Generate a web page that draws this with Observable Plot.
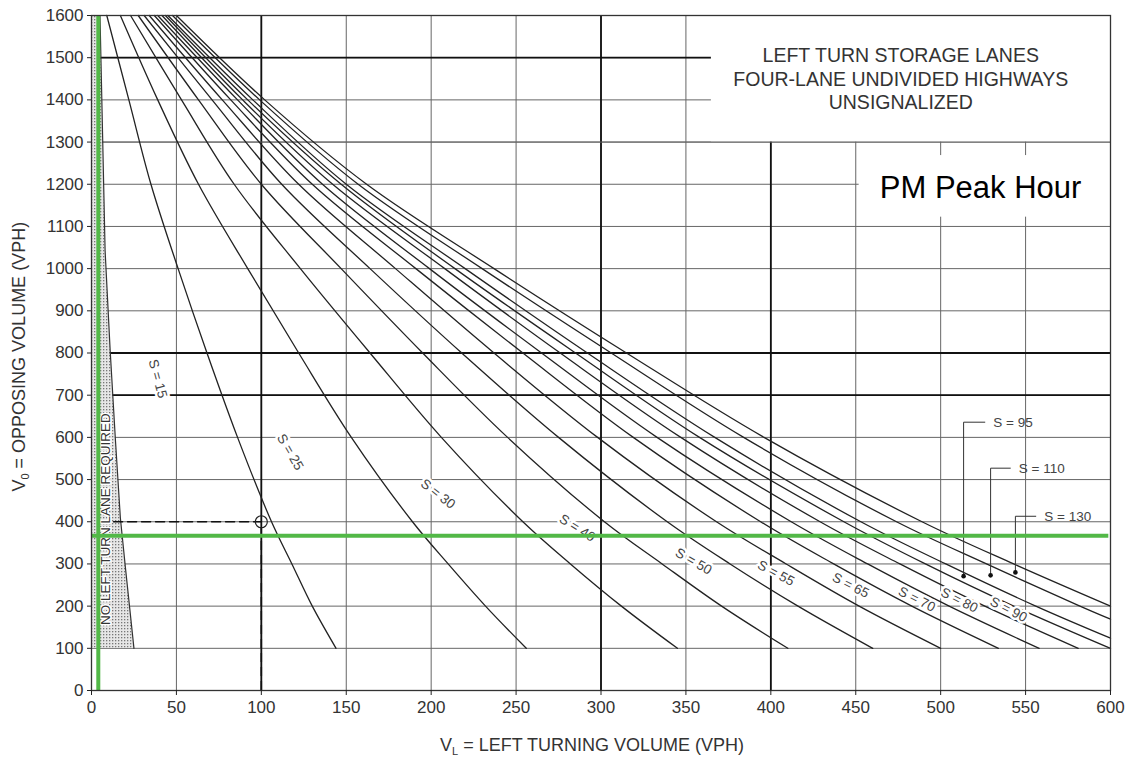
<!DOCTYPE html>
<html>
<head>
<meta charset="utf-8">
<script src="https://cdn.jsdelivr.net/npm/d3@7"></script>
<script src="https://cdn.jsdelivr.net/npm/@observablehq/plot@0.6"></script>
<style>
html,body{margin:0;padding:0;background:#fff;}
#chart svg{display:block;}
</style>
</head>
<body>
<div id="chart"></div>
<script>
// ---------- data ----------
const xTicks = [0, 50, 100, 150, 200, 250, 300, 350, 400, 450, 500, 550, 600];
const yTicks = [0, 100, 200, 300, 400, 500, 600, 700, 800, 900, 1000, 1100, 1200, 1300, 1400, 1500, 1600];
const xMajor = [100, 300, 400];
const yMajor = [1500, 800, 700];

// opposing volume levels at which each storage curve was read
const yLevels = [1600, 1400, 1200, 1000, 800, 600, 400, 300, 200, 100];
const s25X  = [9, 22, 35, 51, 68, 86, 106, 118, 130, 144];
const s30X  = [17, 39, 63, 92, 122, 153, 189, 210, 232, 256];
const s40X  = [23, 53, 84, 123, 164, 206, 254, 282, 312, 345];
const s50X  = [27.5, 63, 100, 147, 195, 245, 302, 336, 371, 410];
const s55X  = [31, 71, 112, 164, 218, 275, 339, 376, 416, 460];
const s65X  = [34, 77, 122, 179, 237, 298, 368, 409, 452, 500];
const s70X  = [37, 82, 130, 191, 254, 319, 394, 437, 483, 534];
const s80X  = [39, 86, 136, 199, 265, 333, 412, 457, 505, 558];
const s90X  = [41.5, 89, 142, 208, 276, 347, 429, 476, 526, 581];
const s95X  = [43.5, 92, 147, 214, 285, 358, 443, 491, 543, 600];
const s110X = [45, 95, 150, 220, 292, 367, 453, 503, 556, 600];
const s110Y = [1600, 1400, 1200, 1000, 800, 600, 400, 300, 200, 124];
const s130X = [47.7, 99, 157, 230, 306, 384, 474, 527, 582, 600];
const s130Y = [1600, 1400, 1200, 1000, 800, 600, 400, 300, 200, 169];
const outerX = [50, 102, 162, 237, 315, 396, 489, 543, 600];
const outerY = [1600, 1400, 1200, 1000, 800, 600, 400, 300, 200];

// "no left turn lane required" zone boundary (S = 15)
const zoneX = [5, 8, 11, 14, 17, 20, 25];
const zoneY = [1600, 1043, 805, 599, 409, 290, 100];

// in-line curve labels
const labelText = ["S = 15", "S = 25", "S = 30", "S = 40", "S = 50", "S = 55", "S = 65", "S = 70", "S = 80", "S = 90"];
const labelX = [39, 117, 204, 286, 354.5, 403, 447, 486, 511, 540];
const labelY = [739, 565, 466, 385, 306, 278, 249, 216, 214, 192];

// callout labels
const calloutText = ["S = 95", "S = 110", "S = 130"];
const calloutTextX = [531, 546, 561];
const calloutTextY = [636, 527, 413];
const calloutDotX = [513.5, 529.4, 544];
const calloutDotY = [271, 273, 280];

// example reading (dashed)
const exampleX = [13, 100];
const exampleY = [400, 400];
const exampleVL = 100;
const exampleVO = 400;

// green highlight lines
const greenVL = 4;
const greenVO = 367;

// title box / notes
const titleLines = ["LEFT TURN STORAGE LANES", "FOUR-LANE UNDIVIDED HIGHWAYS", "UNSIGNALIZED"];
const titleBoxX = [365, 600];
const titleBoxY = [1300, 1600];
const titleAt = [476.5, 1451];
const peakText = "PM Peak Hour";
const peakBoxX = [452, 600];
const peakBoxY = [1122, 1268];
const peakAt = [523.5, 1192];
const zoneText = "NO LEFT TURN LANE REQUIRED";
const zoneTextAt = [8.2, 406];

// ---------- styles ----------
const labelAngle = [75, 60, 38, 32, 30, 28, 27, 27, 27, 27];
const font = "'Liberation Sans', Arial, Helvetica, sans-serif";
const green = "#52b847";

// ---------- build tables ----------
const curves = [
  {name: "S25", xs: s25X, ys: yLevels},
  {name: "S30", xs: s30X, ys: yLevels},
  {name: "S40", xs: s40X, ys: yLevels},
  {name: "S50", xs: s50X, ys: yLevels},
  {name: "S55", xs: s55X, ys: yLevels},
  {name: "S65", xs: s65X, ys: yLevels},
  {name: "S70", xs: s70X, ys: yLevels},
  {name: "S80", xs: s80X, ys: yLevels},
  {name: "S90", xs: s90X, ys: yLevels},
  {name: "S95", xs: s95X, ys: yLevels},
  {name: "S110", xs: s110X, ys: s110Y},
  {name: "S130", xs: s130X, ys: s130Y},
  {name: "outer", xs: outerX, ys: outerY}
];
const curveRows = curves.flatMap(c => c.xs.map((x, i) => ({curve: c.name, x, y: c.ys[i]})));
const zoneRows = zoneX.map((x, i) => ({x, y: zoneY[i]}));
const labels = labelText.map((t, i) => ({t, x: labelX[i], y: labelY[i], a: labelAngle[i]}));
const callouts = calloutText.map((t, i) => ({t, x: calloutTextX[i], y: calloutTextY[i], dx: calloutDotX[i], dy: calloutDotY[i]}));
const leaderRows = callouts.flatMap((c, i) => [
  {k: i, x: c.dx, y: c.dy},
  {k: i, x: c.dx, y: c.y},
  {k: i, x: c.x - 5, y: c.y}
]);

const chart = Plot.plot({
  width: 1135,
  height: 758,
  marginTop: 15,
  marginRight: 25,
  marginBottom: 68,
  marginLeft: 91,
  x: {domain: [0, 600]},
  y: {domain: [0, 1600]},
  style: {fontFamily: font, background: "#fff", color: "#222"},
  marks: [
    Plot.gridX(xTicks, {stroke: "#666", strokeOpacity: 1, strokeWidth: 1}),
    Plot.gridY(yTicks, {stroke: "#666", strokeOpacity: 1, strokeWidth: 1}),
    Plot.gridX(xMajor, {stroke: "#111", strokeOpacity: 1, strokeWidth: 1.8}),
    Plot.gridY(yMajor, {stroke: "#111", strokeOpacity: 1, strokeWidth: 1.8}),
    // title box
    Plot.rect([0], {x1: () => titleBoxX[0], x2: () => titleBoxX[1], y1: () => titleBoxY[0], y2: () => titleBoxY[1], fill: "#fff"}),
    Plot.ruleY([titleBoxY[0]], {stroke: "#666", strokeWidth: 1}),
    Plot.text([titleLines.join("\n")], {x: titleAt[0], y: titleAt[1], text: d => d, fontSize: 19.5, lineHeight: 1.2, fill: "#333", textAnchor: "middle"}),
    // no-left-turn zone
    Plot.areaX(zoneRows, {y: "y", x1: 0, x2: "x", fill: "url(#stipple)", curve: "linear"}),
    Plot.line(zoneRows, {x: "x", y: "y", stroke: "#333", strokeWidth: 1.2}),
    // storage curves
    Plot.line(curveRows, {x: "x", y: "y", z: "curve", curve: "catmull-rom", stroke: "#222", strokeWidth: 1.3}),
    // example reading
    Plot.line(exampleX.map((x, i) => ({x, y: exampleY[i]})), {x: "x", y: "y", stroke: "#111", strokeWidth: 1.5, strokeDasharray: "9,5"}),
    Plot.ruleX([exampleVL], {y1: 0, y2: exampleVO, stroke: "#111", strokeWidth: 1.5, strokeDasharray: "9,5"}),
    Plot.dot([[exampleVL, exampleVO]], {x: d => d[0], y: d => d[1], r: 6, stroke: "#222", strokeWidth: 1.2, fill: "none"}),
    // callouts
    Plot.line(leaderRows, {x: "x", y: "y", z: "k", stroke: "#333", strokeWidth: 1}),
    Plot.dot(callouts, {x: "dx", y: "dy", r: 2.3, fill: "#111"}),
    Plot.text(callouts, {x: "x", y: "y", text: "t", textAnchor: "start", fontSize: 13.5, fill: "#444"}),
    // in-line labels
    Plot.text(labels, {x: "x", y: "y", text: "t", rotate: "a", fontSize: 13.5, fill: "#444", stroke: "#fff", strokeWidth: 5}),
    Plot.text([zoneText], {x: zoneTextAt[0], y: zoneTextAt[1], text: d => d, rotate: -90, fontSize: 13.5, fill: "#333", stroke: "#fff", strokeWidth: 3}),
    // green highlight lines
    Plot.ruleX([greenVL], {y1: 0, y2: 1600, stroke: green, strokeWidth: 4}),
    Plot.ruleY([greenVO], {x1: 0, x2: 599, stroke: green, strokeWidth: 4}),
    // PM peak note
    Plot.rect([0], {x1: () => peakBoxX[0], x2: () => peakBoxX[1], y1: () => peakBoxY[0], y2: () => peakBoxY[1], fill: "#fff"}),
    Plot.text([peakText], {x: peakAt[0], y: peakAt[1], text: d => d, fontSize: 31, fill: "#000"}),
    Plot.frame({stroke: "#333", strokeWidth: 1.3}),
    Plot.axisX(xTicks, {tickSize: 5, tickPadding: 5, fontSize: 17, label: null, fill: "#333", tickFormat: d => String(d)}),
    Plot.axisY(yTicks, {tickSize: 4, tickPadding: 4, fontSize: 17, label: null, fill: "#333", tickFormat: d => String(d)})
  ]
});

document.getElementById("chart").appendChild(chart);

// stipple pattern for the zone
const svg = d3.select(chart);
const defs = svg.insert("defs", ":first-child");
const pat = defs.append("pattern").attr("id", "stipple").attr("patternUnits", "userSpaceOnUse").attr("width", 3).attr("height", 3);
pat.append("rect").attr("width", 3).attr("height", 3).attr("fill", "#e6e6e6");
pat.append("rect").attr("x", 1).attr("y", 1).attr("width", 1.3).attr("height", 1.3).attr("fill", "#777");

// axis titles with subscripts
const sx = chart.scale("x"), sy = chart.scale("y");
const xTitle = svg.append("text")
  .attr("x", sx.apply(295)).attr("y", 758 - 7)
  .attr("text-anchor", "middle").attr("font-size", 18).attr("fill", "#333").attr("font-family", font);
xTitle.append("tspan").text("V");
xTitle.append("tspan").attr("font-size", 11).attr("dy", 4).text("L");
xTitle.append("tspan").attr("dy", -4).text(" = LEFT TURNING VOLUME (VPH)");

const yTitle = svg.append("text")
  .attr("transform", `translate(25,${sy.apply(790)}) rotate(-90)`)
  .attr("text-anchor", "middle").attr("font-size", 18).attr("fill", "#333").attr("font-family", font);
yTitle.append("tspan").text("V");
yTitle.append("tspan").attr("font-size", 11).attr("dy", 4).text("0");
yTitle.append("tspan").attr("dy", -4).text(" = OPPOSING VOLUME (VPH)");
</script>
</body>
</html>
